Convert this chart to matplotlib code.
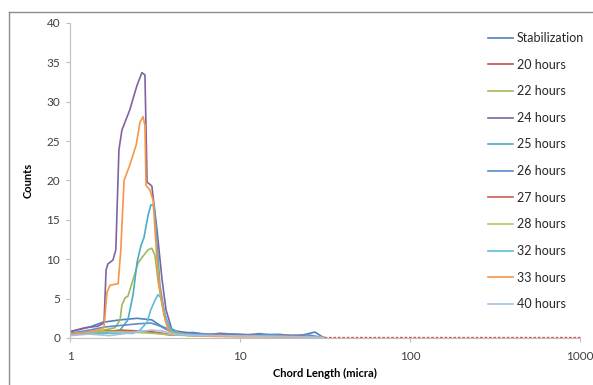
import matplotlib
matplotlib.use("Agg")
import matplotlib.pyplot as plt
from matplotlib.lines import Line2D

plt.rcParams['font.family'] = ['Lato', 'DejaVu Sans']

labels = ["Stabilization", "20 hours", "22 hours", "24 hours", "25 hours", "26 hours",
          "27 hours", "28 hours", "32 hours", "33 hours", "40 hours"]
colors = ["#4F81BD", "#C0504D", "#9BBB59", "#8064A2", "#4BACC6", "#5B8ECB",
          "#D05A57", "#A9C86A", "#5FBDD6", "#F79646", "#A9C0DE"]

# chord length (micra) and counts per series
x_stab = [1.0, 1.31, 1.56, 1.97, 2.48, 3.03, 3.38, 3.87, 4.44, 5.3, 6.5, 7.6, 9.0, 11, 13, 15, 17.2, 20, 22.5, 25.8, 27.6, 29.5, 31]
y_stab = [0.8, 1.4, 2.0, 2.3, 2.5, 2.3, 1.6, 1.0, 0.6, 0.7, 0.4, 0.6, 0.5, 0.4, 0.55, 0.4, 0.45, 0.3, 0.3, 0.6, 0.75, 0.35, 0.05]

x_20 = [1.0, 1.3, 1.6, 2.0, 2.5, 3.0, 3.5, 4.0, 5.0, 6.5, 8.0, 10, 13, 17, 22, 27, 31]
y_20 = [0.5, 0.7, 0.9, 0.9, 0.8, 0.8, 0.6, 0.4, 0.35, 0.3, 0.3, 0.25, 0.3, 0.2, 0.2, 0.15, 0.05]

x_22 = [1.0, 1.5, 1.84, 1.97, 2.02, 2.11, 2.19, 2.35, 2.51, 2.69, 2.88, 3.03, 3.16, 3.29, 3.48, 3.67, 3.87, 4.44, 5.5, 7.0, 10, 15, 22, 31]
y_22 = [0.6, 0.9, 1.3, 2.3, 4.2, 5.1, 5.3, 7.4, 9.5, 10.4, 11.2, 11.4, 10.5, 7.4, 4.2, 2.0, 1.0, 0.5, 0.4, 0.3, 0.3, 0.2, 0.15, 0.05]

x_24 = [1.0, 1.225, 1.46, 1.585, 1.63, 1.67, 1.79, 1.86, 1.94, 2.02, 2.25, 2.48, 2.65, 2.76, 2.84, 3.03, 3.25, 3.48, 3.67, 3.98, 4.44, 5.81, 7.5, 10, 15, 22, 31]
y_24 = [0.8, 1.3, 1.5, 1.9, 8.6, 9.4, 9.9, 11.2, 23.9, 26.4, 29.0, 32.1, 33.7, 33.4, 19.8, 19.3, 13.7, 7.4, 3.6, 1.0, 0.8, 0.5, 0.4, 0.3, 0.25, 0.2, 0.05]

x_25 = [1.0, 1.5, 1.97, 2.19, 2.35, 2.48, 2.62, 2.72, 2.88, 2.99, 3.12, 3.20, 3.38, 3.62, 3.87, 4.44, 5.5, 7.0, 10, 15, 22, 31]
y_25 = [0.5, 0.6, 1.0, 2.3, 5.5, 9.6, 11.8, 12.7, 15.6, 16.9, 16.8, 14.3, 6.7, 2.9, 1.3, 0.6, 0.5, 0.4, 0.3, 0.25, 0.2, 0.05]

x_26 = [1.0, 1.3, 1.6, 2.0, 2.5, 3.0, 3.4, 3.9, 4.5, 5.5, 7.0, 9.0, 12, 16, 20, 25, 31]
y_26 = [0.6, 1.0, 1.4, 1.6, 1.8, 1.9, 1.5, 0.8, 0.5, 0.6, 0.45, 0.5, 0.4, 0.45, 0.35, 0.4, 0.05]

x_27 = [1.0, 1.3, 1.6, 2.0, 2.5, 3.0, 3.5, 4.0, 5.0, 6.0, 7.5, 9.0, 11, 14, 18, 23, 31]
y_27 = [0.4, 0.6, 0.8, 1.0, 0.9, 0.7, 0.5, 0.35, 0.4, 0.3, 0.45, 0.3, 0.35, 0.25, 0.3, 0.2, 0.08]
x_27_tail = [31, 1000]
y_27_tail = [0.08, 0.08]

x_28 = [1.0, 1.3, 1.6, 2.0, 2.5, 3.0, 3.5, 4.0, 5.0, 7.0, 10, 15, 22, 31]
y_28 = [0.5, 0.7, 0.8, 0.8, 0.7, 0.6, 0.5, 0.4, 0.3, 0.25, 0.2, 0.2, 0.15, 0.05]

x_32 = [1.0, 1.72, 2.35, 2.58, 2.84, 2.99, 3.16, 3.29, 3.43, 3.57, 3.77, 3.98, 4.75, 6.0, 8.0, 12, 18, 25, 31]
y_32 = [0.5, 0.6, 0.6, 1.0, 2.0, 3.6, 4.8, 5.5, 5.1, 3.6, 1.7, 0.8, 0.5, 0.35, 0.3, 0.25, 0.2, 0.15, 0.05]

x_33 = [1.0, 1.403, 1.585, 1.65, 1.72, 1.92, 1.99, 2.08, 2.25, 2.45, 2.58, 2.69, 2.76, 2.80, 2.95, 3.08, 3.25, 3.38, 3.57, 3.77, 4.15, 5.0, 7.0, 10, 15, 22, 31]
y_33 = [0.5, 0.9, 1.3, 5.8, 6.7, 6.9, 11.2, 20.0, 22.0, 24.5, 27.4, 28.1, 27.0, 19.4, 18.8, 17.5, 9.9, 6.1, 2.9, 1.0, 0.5, 0.3, 0.2, 0.15, 0.15, 0.1, 0.05]

x_40 = [1.0, 1.3, 1.5, 1.7, 2.0, 2.5, 3.0, 3.5, 4.0, 5.0, 7.0, 10, 15, 22, 31]
y_40 = [0.3, 0.5, 0.4, 0.3, 0.5, 0.8, 1.0, 0.9, 0.5, 0.35, 0.3, 0.25, 0.2, 0.15, 0.05]

xs = [x_stab, x_20, x_22, x_24, x_25, x_26, x_27, x_28, x_32, x_33, x_40]
ys = [y_stab, y_20, y_22, y_24, y_25, y_26, y_27, y_28, y_32, y_33, y_40]

yticks = [0, 5, 10, 15, 20, 25, 30, 35, 40]
xticks = [1, 10, 100, 1000]
xticklabels = ["1", "10", "100", "1000"]

fig = plt.figure(figsize=(5.93, 3.85), dpi=100)
ax = fig.add_axes([70 / 593, 1 - 338 / 385, (580 - 70) / 593, (338 - 23) / 385])

# outer chart frame (only left and top visible)
fig.add_artist(Line2D([9 / 593, 9 / 593], [0, 1 - 12 / 385], transform=fig.transFigure,
                      color="#8c8c8c", lw=1.0))
fig.add_artist(Line2D([9 / 593, 1], [1 - 12 / 385, 1 - 12 / 385], transform=fig.transFigure,
                      color="#8c8c8c", lw=1.0))

order = [10, 8, 7, 6, 1, 5, 0, 2, 4, 9, 3]
handles = {}
for i in order:
    h, = ax.plot(xs[i], ys[i], color=colors[i], lw=1.2, label=labels[i], zorder=2 + i * 0.01)
    handles[i] = h
ax.plot(x_27_tail, y_27_tail, color=colors[6], lw=1.0, linestyle=(0, (2, 1.2)), clip_on=False)

ax.set_xscale("log")
ax.set_xlim(1, 1000)
ax.set_ylim(0, 40)
ax.set_xticks(xticks)
ax.set_xticklabels(xticklabels)
ax.xaxis.set_minor_locator(matplotlib.ticker.NullLocator())
ax.set_yticks(yticks)

for s in ["top", "right"]:
    ax.spines[s].set_visible(False)
for s in ["left", "bottom"]:
    ax.spines[s].set_color("#bfbfbf")
    ax.spines[s].set_linewidth(0.8)
ax.tick_params(axis="both", colors="#bfbfbf", labelcolor="#404040", labelsize=8.5, length=3, width=0.8)
ax.tick_params(axis="y", pad=4)
ax.tick_params(axis="x", pad=6)

ax.set_xlabel("Chord Length (micra)", fontsize=8, fontweight="bold", color="#000000", labelpad=5)
ax.set_ylabel("Counts", fontsize=8, fontweight="bold", color="#000000", labelpad=9)

leg = ax.legend([handles[i] for i in range(11)], labels, loc="upper left",
                bbox_to_anchor=(488 / 593, 1 - 32 / 385), bbox_transform=fig.transFigure,
                frameon=False, fontsize=9, handlelength=2.0, handletextpad=0.32,
                labelspacing=1.17, borderaxespad=0, borderpad=0)
for t in leg.get_texts():
    t.set_color("#262626")

fig.savefig("out.png", dpi=100)
